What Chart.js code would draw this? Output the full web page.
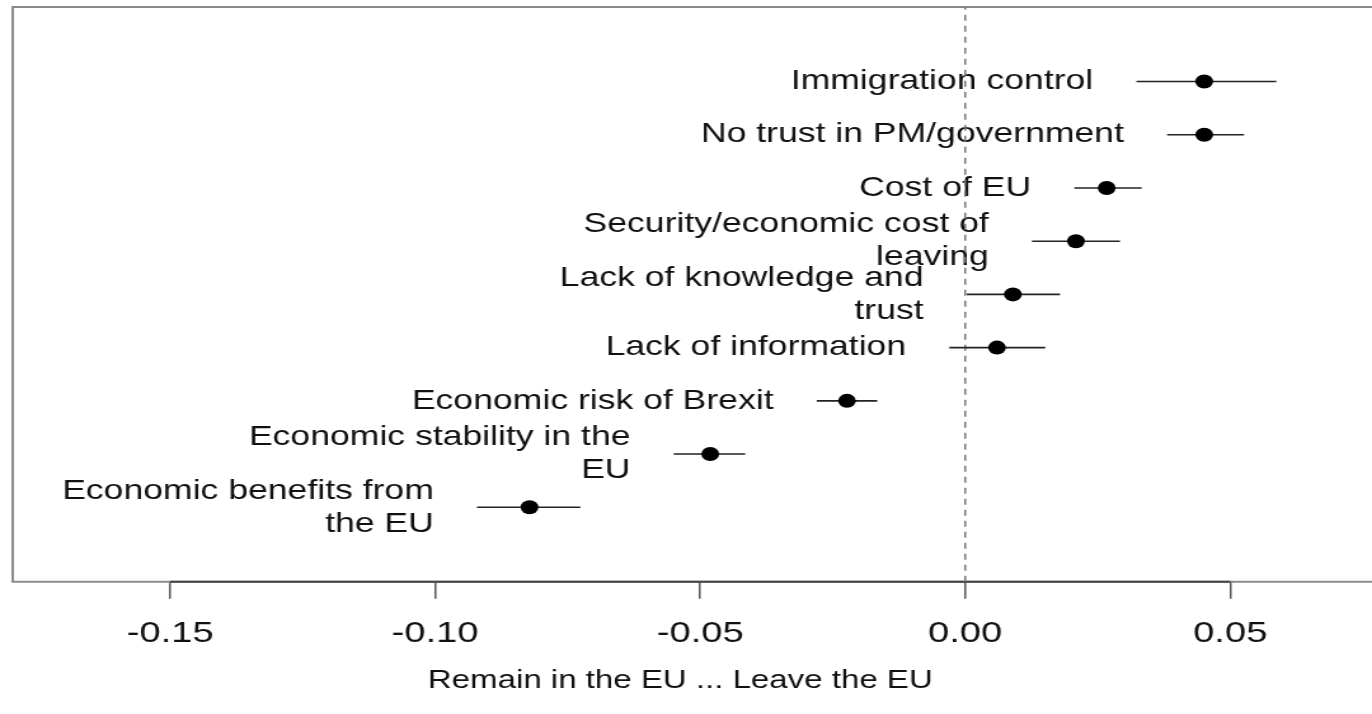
<!DOCTYPE html>
<html lang="en">
<head>
    <meta charset="UTF-8">
    <title>Remain or Leave: reasons</title>
    <script src="https://cdn.jsdelivr.net/npm/chart.js"></script>
    <style>
        body {
            margin: 0;
            background: white;
        }
    </style>
</head>
<body>
    <!-- the original picture is stretched sideways (~1.27x), so the canvas is too -->
    <canvas id="effects" width="1080" height="714" style="width:1372px;height:714px"></canvas>

    <script>
        // reasons, top row first (\n = where the label wraps)
        const reasons = [
            'Immigration control',
            'No trust in PM/government',
            'Cost of EU',
            'Security/economic cost of\nleaving',
            'Lack of knowledge and\ntrust',
            'Lack of information',
            'Economic risk of Brexit',
            'Economic stability in the\nEU',
            'Economic benefits from\nthe EU'
        ];
        const rowPos = [9, 8, 7, 6, 5, 4, 3, 2, 1];
        const estimate = [0.0451, 0.0451, 0.0267, 0.0209, 0.0090, 0.0060, -0.0223, -0.0481, -0.0822];
        const lower    = [0.0323, 0.0381, 0.0206, 0.0126, 0.0003, -0.0030, -0.0280, -0.0550, -0.0921];
        const upper    = [0.0587, 0.0526, 0.0333, 0.0292, 0.0179, 0.0151, -0.0166, -0.0415, -0.0726];
        const xTicks = [-0.15, -0.10, -0.05, 0.00, 0.05];
        const xTitle = 'Remain in the EU ... Leave the EU';

        const FONT = '"Liberation Sans", Arial, sans-serif';

        // points
        let datasets = [{
            type: 'scatter',
            data: rowPos.map((y, i) => ({ x: estimate[i], y: y })),
            backgroundColor: '#000',
            borderWidth: 0,
            pointRadius: 7,
            order: 0
        }];
        // confidence intervals
        rowPos.forEach((y, i) => {
            datasets.push({
                type: 'line',
                data: [{ x: lower[i], y: y }, { x: upper[i], y: y }],
                borderColor: '#222',
                borderWidth: 1.6,
                pointRadius: 0,
                order: 1
            });
        });
        // zero reference line
        datasets.push({
            type: 'line',
            data: [{ x: 0, y: -0.4 }, { x: 0, y: 10.4 }],
            borderColor: '#777',
            borderWidth: 1.5,
            borderDash: [6, 5],
            pointRadius: 0,
            order: 2
        });

        // box (open on the right), dark axis line, text labels
        const rStyle = {
            id: 'rStyle',
            beforeDatasetsDraw(chart) {
                const { ctx, chartArea: a, scales: { x, y } } = chart;
                ctx.save();
                ctx.strokeStyle = '#8a8a8a';
                ctx.lineWidth = 2;
                ctx.beginPath();
                ctx.moveTo(chart.width, a.top);
                ctx.lineTo(a.left, a.top);
                ctx.lineTo(a.left, a.bottom);
                ctx.lineTo(chart.width, a.bottom);
                ctx.stroke();

                ctx.strokeStyle = '#444';
                ctx.lineWidth = 2;
                ctx.beginPath();
                ctx.moveTo(x.getPixelForValue(xTicks[0]), a.bottom);
                ctx.lineTo(x.getPixelForValue(xTicks[xTicks.length - 1]), a.bottom);
                ctx.stroke();

                ctx.fillStyle = '#111';
                ctx.font = '28px ' + FONT;
                ctx.textAlign = 'right';
                ctx.textBaseline = 'middle';
                reasons.forEach((txt, i) => {
                    const lines = txt.split('\n');
                    const px = x.getPixelForValue(lower[i]) - 34;
                    const py = y.getPixelForValue(rowPos[i]);
                    lines.forEach((ln, k) => {
                        ctx.fillText(ln, px, py + (k - (lines.length - 1) / 2) * 33);
                    });
                });
                ctx.restore();
            }
        };

        new Chart(document.getElementById('effects'), {
            data: { datasets: datasets },
            options: {
                responsive: false,
                devicePixelRatio: 1,
                animation: false,
                layout: { padding: { top: 5, left: 10, right: 19, bottom: 14 } },
                plugins: { legend: { display: false }, tooltip: { enabled: false } },
                scales: {
                    x: {
                        type: 'linear',
                        min: -0.1797,
                        max: 0.0722,
                        afterBuildTicks: s => { s.ticks = xTicks.map(v => ({ value: v })); },
                        border: { display: false },
                        grid: { drawOnChartArea: false, drawTicks: true, tickLength: 17, color: '#555', lineWidth: 1.5 },
                        ticks: {
                            padding: 17,
                            color: '#111',
                            font: { family: FONT, size: 30 },
                            callback: v => v.toFixed(2)
                        },
                        title: {
                            display: true,
                            text: xTitle,
                            color: '#111',
                            font: { family: FONT, size: 26 },
                            padding: { top: -4, bottom: 4 }
                        }
                    },
                    y: {
                        type: 'linear',
                        min: -0.4,
                        max: 10.4,
                        display: false
                    }
                }
            },
            plugins: [rStyle]
        });
    </script>
</body>
</html>
